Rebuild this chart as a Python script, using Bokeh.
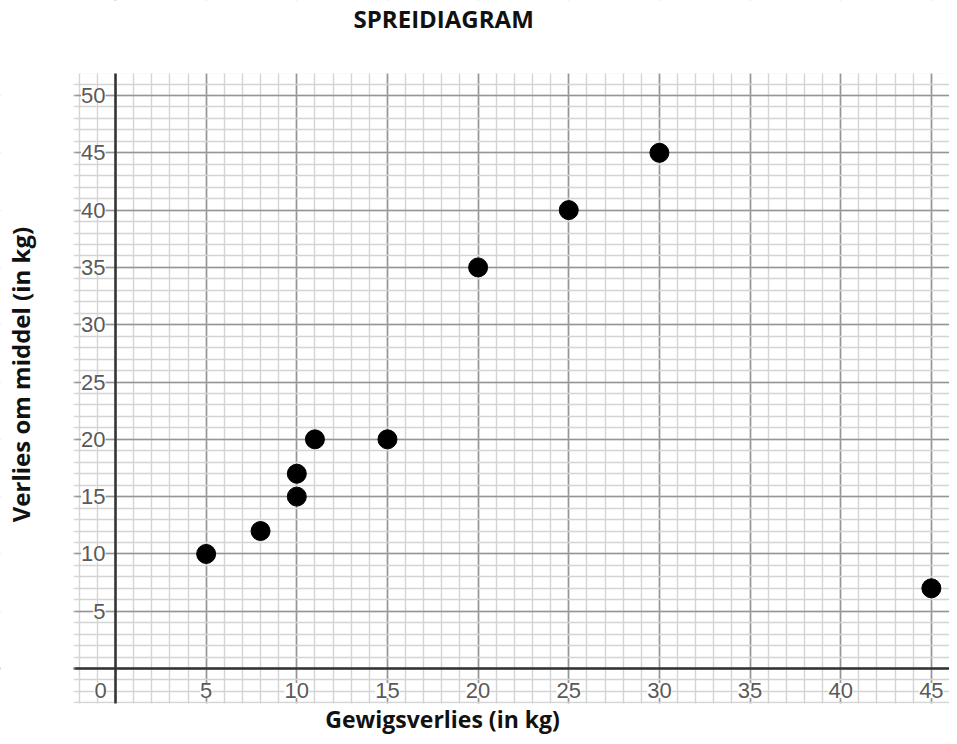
from bokeh.plotting import figure
from bokeh.models import (Range1d, Grid, SingleIntervalTicker, Span, LabelSet, Label,
                          ColumnDataSource, BoxAnnotation)
from bokeh.core.properties import value
from bokeh.embed import file_html
from bokeh.resources import INLINE
import math

title_text = "SPREIDIAGRAM"
x_title = "Gewigsverlies (in kg)"
y_title = "Verlies om middel (in kg)"

weight_loss = [5, 8, 10, 10, 11, 15, 20, 25, 30, 45]
waist_loss = [10, 12, 15, 17, 20, 20, 35, 40, 45, 7]

x_tick_values = [5, 10, 15, 20, 25, 30, 35, 40, 45]
y_tick_values = [5, 10, 15, 20, 25, 30, 35, 40, 45, 50]
origin_label = ["0"]

# visible graph-paper extent (data units)
grid_left, grid_bottom, grid_top = -2.32, -3.05, 51.92

p = figure(width=949, height=736, output_backend="svg", toolbar_location=None,
           x_range=Range1d(-6.343, 46.0), y_range=Range1d(-5.93, 58.29),
           x_axis_type=None, y_axis_type=None,
           min_border_left=0, min_border_right=0, min_border_top=0, min_border_bottom=0)
p.outline_line_color = None
p.background_fill_color = "white"
p.border_fill_color = "white"

for dim in (0, 1):
    g = Grid(dimension=dim, ticker=SingleIntervalTicker(interval=5, num_minor_ticks=5))
    g.grid_line_color = "#959595"
    g.grid_line_width = 1.6
    g.minor_grid_line_color = "#d4d4d4"
    g.minor_grid_line_width = 1.4
    p.add_layout(g)

p.add_layout(Span(location=0, dimension="height", line_color="#333333", line_width=2.5))
p.add_layout(Span(location=0, dimension="width", line_color="#333333", line_width=2.5))

# white margins around the graph paper
p.add_layout(BoxAnnotation(left=-100, right=grid_left, bottom=-100, top=100,
                           fill_color="white", fill_alpha=1, line_color="white", line_width=4))
p.add_layout(BoxAnnotation(left=-100, right=100, bottom=grid_top, top=100,
                           fill_color="white", fill_alpha=1, line_color=None))
p.add_layout(BoxAnnotation(left=-100, right=100, bottom=-100, top=grid_bottom,
                           fill_color="white", fill_alpha=1, line_color=None))

tick_font = value("Liberation Sans")

xs = ColumnDataSource(dict(x=x_tick_values, y=[0] * len(x_tick_values),
                           t=[str(v) for v in x_tick_values]))
p.add_layout(LabelSet(x="x", y="y", text="t", source=xs, text_align="center",
                      text_baseline="middle", y_offset=-22, text_font=tick_font,
                      text_font_size="22px", text_color="#5a5a5a",
                      background_fill_color="white"))

ys = ColumnDataSource(dict(x=[0] * len(y_tick_values), y=y_tick_values,
                           t=[str(v) for v in y_tick_values]))
p.add_layout(LabelSet(x="x", y="y", text="t", source=ys, text_align="right",
                      text_baseline="middle", x_offset=-10, text_font=tick_font,
                      text_font_size="22px", text_color="#5a5a5a",
                      background_fill_color="white"))

os_ = ColumnDataSource(dict(x=[0], y=[0], t=origin_label))
p.add_layout(LabelSet(x="x", y="y", text="t", source=os_, text_align="center",
                      text_baseline="middle", x_offset=-15, y_offset=-22, text_font=tick_font,
                      text_font_size="22px", text_color="#5a5a5a",
                      background_fill_color="white"))

p.scatter(weight_loss, waist_loss, size=19, color="black")

head_font = "Open Sans"
p.add_layout(Label(x=18.1, y=56.7, text=title_text, text_align="center",
                   text_baseline="alphabetic",
                   text_font=head_font, text_font_style="bold", text_font_size="24px",
                   text_color="#111111"))
p.add_layout(Label(x=18.04, y=-4.36, text=x_title, text_align="center",
                   text_baseline="alphabetic",
                   text_font=head_font, text_font_style="bold", text_font_size="23px",
                   text_color="#111111"))
p.add_layout(Label(x=-5.24, y=25.65, text=y_title, text_align="center",
                   text_baseline="alphabetic", angle=math.pi / 2,
                   text_font=head_font, text_font_style="bold", text_font_size="24px",
                   text_color="#111111"))

open("out.html", "w").write(file_html(p, INLINE))
